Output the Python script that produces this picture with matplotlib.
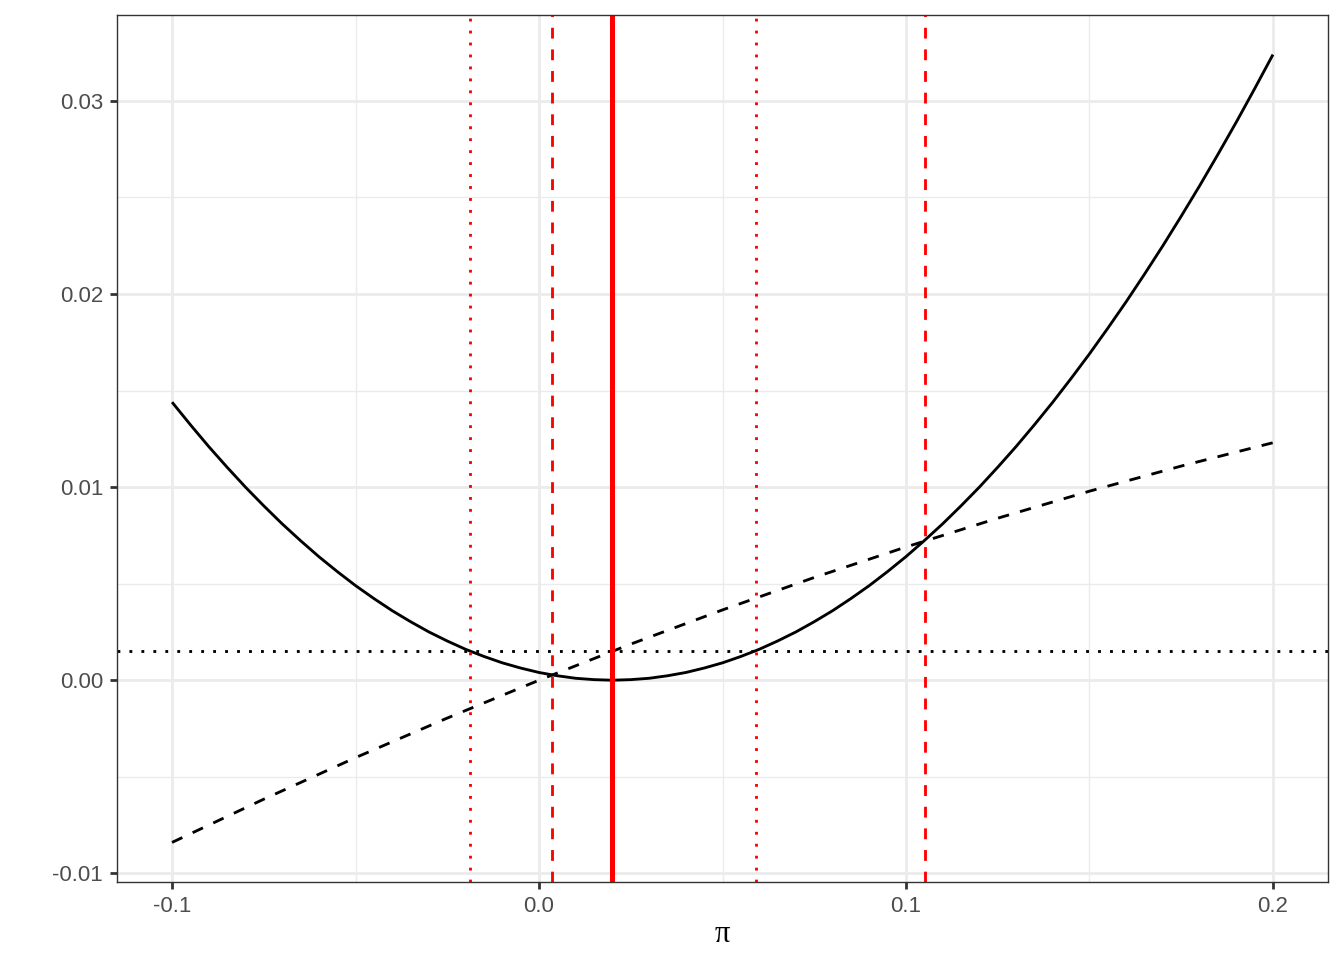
import matplotlib
matplotlib.use("Agg")
import matplotlib.pyplot as plt
from matplotlib.ticker import FixedLocator

# Solid curve values
curve_x = [-0.100, -0.095, -0.090, -0.085, -0.080, -0.075, -0.070, -0.065, -0.060, -0.055,
           -0.050, -0.045, -0.040, -0.035, -0.030, -0.025, -0.020, -0.015, -0.010, -0.005,
           0.000, 0.005, 0.010, 0.015, 0.020, 0.025, 0.030, 0.035, 0.040, 0.045,
           0.050, 0.055, 0.060, 0.065, 0.070, 0.075, 0.080, 0.085, 0.090, 0.095,
           0.100, 0.105, 0.110, 0.115, 0.120, 0.125, 0.130, 0.135, 0.140, 0.145,
           0.150, 0.155, 0.160, 0.165, 0.170, 0.175, 0.180, 0.185, 0.190, 0.195, 0.200]
curve_y = [0.01440, 0.01323, 0.01210, 0.01103, 0.01000, 0.00903, 0.00810, 0.00723, 0.00640, 0.00563,
           0.00490, 0.00423, 0.00360, 0.00303, 0.00250, 0.00203, 0.00160, 0.00123, 0.00090, 0.00063,
           0.00040, 0.00023, 0.00010, 0.00003, 0.00000, 0.00003, 0.00010, 0.00023, 0.00040, 0.00063,
           0.00090, 0.00123, 0.00160, 0.00203, 0.00250, 0.00303, 0.00360, 0.00423, 0.00490, 0.00563,
           0.00640, 0.00723, 0.00810, 0.00903, 0.01000, 0.01103, 0.01210, 0.01323, 0.01440, 0.01563,
           0.01690, 0.01823, 0.01960, 0.02103, 0.02250, 0.02403, 0.02560, 0.02723, 0.02890, 0.03063, 0.03240]

# Dashed curve values
dash_x = [-0.100, -0.075, -0.050, -0.025, 0.000, 0.025, 0.050, 0.075, 0.100, 0.125, 0.150, 0.175, 0.200]
dash_y = [-0.0084, -0.00616, -0.00401, -0.00196, 0.0, 0.00187, 0.00364, 0.00532, 0.0069, 0.00839,
          0.00979, 0.01109, 0.0123]

# Reference lines
hline_dotted = 0.0015
vline_solid = 0.02
vlines_dashed = [0.0035, 0.1052]
vlines_dotted = [-0.0188, 0.0591]

x_ticks = [-0.1, 0.0, 0.1, 0.2]
x_labels = ["-0.1", "0.0", "0.1", "0.2"]
y_ticks = [-0.01, 0.00, 0.01, 0.02, 0.03]
y_labels = ["-0.01", "0.00", "0.01", "0.02", "0.03"]

plt.rcParams['font.family'] = ['Liberation Sans', 'DejaVu Sans']

fig = plt.figure(figsize=(13.44, 9.6), dpi=100)
ax = fig.add_axes([117/1344, 1 - 882/960, (1328-117)/1344, (882-15)/960])

ax.set_xlim(-0.115, 0.215)
ax.set_ylim(-0.01045, 0.03445)

ax.xaxis.set_major_locator(FixedLocator(x_ticks))
ax.yaxis.set_major_locator(FixedLocator(y_ticks))
ax.xaxis.set_minor_locator(FixedLocator([-0.05, 0.05, 0.15]))
ax.yaxis.set_minor_locator(FixedLocator([-0.005, 0.005, 0.015, 0.025]))
ax.set_xticklabels(x_labels)
ax.set_yticklabels(y_labels)

ax.grid(which='major', color='#EBEBEB', linewidth=2.0)
ax.grid(which='minor', color='#EBEBEB', linewidth=1.0)
ax.set_axisbelow(True)

for s in ax.spines.values():
    s.set_color('#333333')
    s.set_linewidth(1.0)

ax.tick_params(which='major', length=5.2, width=2.0, color='#333333',
               labelsize=16, labelcolor='#4D4D4D', pad=4.8)
ax.tick_params(which='minor', length=0)

lw = 2.05
ax.plot(curve_x, curve_y, color='black', linewidth=lw, solid_capstyle='butt')
ax.plot(dash_x, dash_y, color='black', linewidth=lw, linestyle=(0, (4, 4)), dash_capstyle='butt')
ax.axhline(hline_dotted, color='black', linewidth=lw, linestyle=(0, (1, 3.2)), dash_capstyle='butt')
ax.axvline(vline_solid, color='#FF0000', linewidth=3.6)
for v in vlines_dashed:
    ax.axvline(v, color='#FF0000', linewidth=lw, linestyle=(0, (3.8, 3.8)), dash_capstyle='butt')
for v in vlines_dotted:
    ax.axvline(v, color='#FF0000', linewidth=lw, linestyle=(0, (1, 3.2)), dash_capstyle='butt')

ax.set_xlabel('π', fontsize=22, family=['Liberation Serif', 'DejaVu Serif'], labelpad=2, color='black')

fig.savefig('out.png', dpi=100, facecolor='white')
